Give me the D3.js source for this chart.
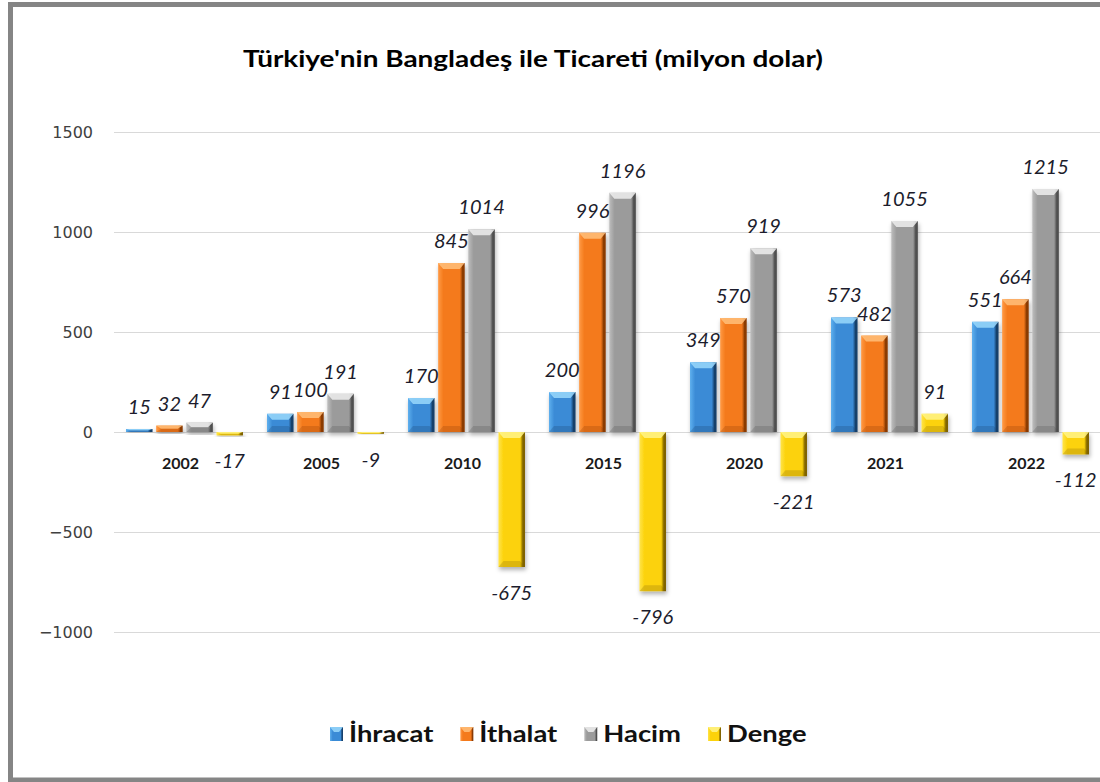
<!DOCTYPE html>
<html>
<head>
<meta charset="utf-8">
<script src="https://cdn.jsdelivr.net/npm/d3@7"></script>
<style>
  body { margin: 0; background: #fff; }
  svg { display: block; }
</style>
</head>
<body>
<div id="chart"></div>
<script>
// data
const years = ['2002', '2005', '2010', '2015', '2020', '2021', '2022'];
const seriesNames = ['İhracat', 'İthalat', 'Hacim', 'Denge'];
const ihracat = [15, 91, 170, 200, 349, 573, 551];
const ithalat = [32, 100, 845, 996, 570, 482, 664];
const hacim = [47, 191, 1014, 1196, 919, 1055, 1215];
const denge = [-17, -9, -675, -796, -221, 91, -112];
const yTicks = [-1000, -500, 0, 500, 1000, 1500];

const seriesValues = [ihracat, ithalat, hacim, denge];

// colours: light edge, body, dark edge, bevel
const palette = [
  { light: '#5fb0ee', body: '#3a8bd6', dark: '#17406b', top: '#9ad8fb' },
  { light: '#ff9a45', body: '#f47a1c', dark: '#8a3a04', top: '#ffc07a' },
  { light: '#bdbdbd', body: '#9b9b9b', dark: '#4f4f4f', top: '#eeeeee' },
  { light: '#ffe44a', body: '#fcd20a', dark: '#806400', top: '#fff58a' }
];

const W = 1100, H = 782;
const font = 'Lato, "Open Sans", sans-serif';
// the reference text is drawn a bit wider than Lato
const stretch = 1.27;

const svg = d3.select('#chart').append('svg')
  .attr('width', W).attr('height', H);

const defs = svg.append('defs');
palette.forEach((p, i) => {
  const g = defs.append('linearGradient').attr('id', 'bar' + i)
    .attr('x1', 0).attr('x2', 1).attr('y1', 0).attr('y2', 0);
  g.append('stop').attr('offset', '0%').attr('stop-color', p.light);
  g.append('stop').attr('offset', '20%').attr('stop-color', p.body);
  g.append('stop').attr('offset', '82%').attr('stop-color', p.body);
  g.append('stop').attr('offset', '92%').attr('stop-color', p.dark);
  g.append('stop').attr('offset', '100%').attr('stop-color', p.dark);
});
defs.append('filter').attr('id', 'shadow')
  .attr('x', '-30%').attr('y', '-30%').attr('width', '160%').attr('height', '160%')
  .append('feDropShadow')
  .attr('dx', 1).attr('dy', 3).attr('stdDeviation', 2)
  .attr('flood-color', '#000').attr('flood-opacity', 0.3);

// frame (right side runs off the picture like the reference)
svg.append('rect')
  .attr('x', 10.5).attr('y', 4.5).attr('width', 1200).attr('height', 775.5)
  .attr('fill', 'none').attr('stroke', '#858585').attr('stroke-width', 5);

// scales
const x0 = d3.scaleBand().domain(years).range([114, 1101]);
const x1 = d3.scaleBand().domain(seriesNames)
  .range([12, x0.bandwidth() - 12]).paddingInner(0.12);
const y = d3.scaleLinear().domain([-1000, 1500]).range([632, 132]);

// gridlines
svg.append('g')
  .attr('transform', 'translate(114,0)')
  .call(d3.axisLeft(y).tickValues(yTicks).tickSize(-(1101 - 114)).tickFormat(''))
  .call(g => g.select('.domain').remove())
  .call(g => g.selectAll('line').attr('stroke', '#d9d9d9').attr('stroke-width', 1.2));

// y axis labels
svg.append('g')
  .attr('transform', 'translate(114,0)')
  .call(d3.axisLeft(y).tickValues(yTicks).tickSize(0).tickPadding(21).tickFormat(d3.format('d')))
  .call(g => g.select('.domain').remove())
  .call(g => g.selectAll('text')
    .attr('font-family', 'DejaVu Sans, sans-serif').attr('font-size', 16).attr('fill', '#404040'));

// category labels
svg.append('g')
  .attr('transform', `translate(0,${y(0)})`)
  .call(d3.axisBottom(x0).tickSize(0).tickPadding(26))
  .call(g => g.select('.domain').remove())
  .call(g => g.selectAll('text')
    .attr('x', -4)
    .attr('font-family', font).attr('font-size', 16).attr('font-weight', 'bold')
    .attr('fill', '#1a1a1a'));

// bars
const rows = years.map((yr, i) => ({
  year: yr,
  vals: seriesNames.map((s, k) => ({ series: s, k, value: seriesValues[k][i] }))
}));

const groups = svg.append('g').selectAll('g.year')
  .data(rows).enter().append('g')
  .attr('class', 'year')
  .attr('transform', d => `translate(${x0(d.year)},0)`);

const bars = groups.selectAll('g.bar')
  .data(d => d.vals).enter().append('g')
  .attr('class', 'bar')
  .attr('filter', 'url(#shadow)');

bars.each(function (d) {
  const g = d3.select(this);
  const bx = x1(d.series), bw = x1.bandwidth();
  const top = Math.min(y(d.value), y(0));
  const bh = Math.abs(y(d.value) - y(0));
  const p = palette[d.k];
  g.append('rect')
    .attr('x', bx).attr('y', top).attr('width', bw).attr('height', bh)
    .attr('fill', `url(#bar${d.k})`);
  const bev = Math.min(6, bh / 2);
  g.append('path')
    .attr('d', `M${bx},${top}L${bx + bw},${top}L${bx + bw - 5},${top + bev}L${bx + 5},${top + bev}Z`)
    .attr('fill', p.top).attr('opacity', 0.85);
  const bot = top + bh;
  g.append('path')
    .attr('d', `M${bx},${bot}L${bx + bw},${bot}L${bx + bw - 5},${bot - bev}L${bx + 5},${bot - bev}Z`)
    .attr('fill', p.dark).attr('opacity', 0.25);
});

// value labels
groups.selectAll('text.val')
  .data(d => d.vals).enter().append('text')
  .attr('class', 'val')
  .attr('x', d => x1(d.series) + x1.bandwidth() / 2)
  .attr('y', d => d.value >= 0 ? y(d.value) - 15 : y(d.value) + 33)
  .attr('text-anchor', 'middle')
  .attr('font-family', font).attr('font-size', 20).attr('font-style', 'italic')
  .attr('fill', '#1c1c2c')
  .text(d => d.value);

// title
svg.append('text')
  .attr('transform', `translate(533,67) scale(${stretch},1)`)
  .attr('text-anchor', 'middle')
  .attr('font-family', font).attr('font-size', 22).attr('font-weight', 'bold')
  .attr('fill', '#000')
  .text("Türkiye'nin Bangladeş ile Ticareti (milyon dolar)");

// legend
const legend = svg.append('g').attr('transform', 'translate(0,734)');
let lx = 330;
seriesNames.forEach((s, k) => {
  const item = legend.append('g').attr('transform', `translate(${lx},0)`);
  item.append('rect').attr('x', 0).attr('y', -7).attr('width', 13).attr('height', 14)
    .attr('fill', `url(#bar${k})`);
  item.append('path').attr('d', 'M0,-7L13,-7L9,-2L4,-2Z').attr('fill', palette[k].top).attr('opacity', 0.85);
  const t = item.append('text')
    .attr('transform', `translate(19,8) scale(${stretch * 0.98},1)`)
    .attr('font-family', font).attr('font-size', 22).attr('font-weight', 'bold')
    .attr('fill', '#111')
    .text(s);
  lx += 19 + t.node().getComputedTextLength() * stretch * 0.98 + 27;
});
</script>
</body>
</html>
